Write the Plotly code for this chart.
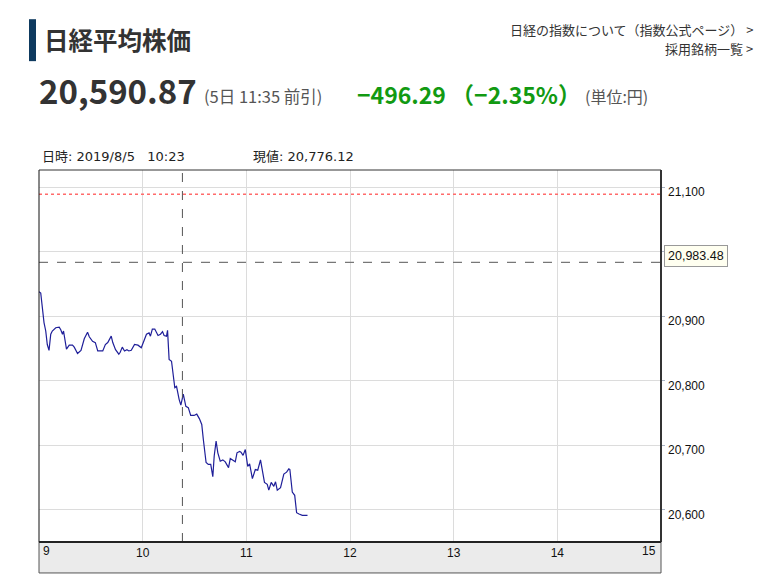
import plotly.graph_objects as go

# ---- data ----
minutes_from_open = [
    0, 1.0, 2.9, 3.9, 4.8, 5.8, 6.8, 7.7, 9.7, 11.7,
    12.6, 13.6, 14.2, 15.9, 17.5, 19.4, 20.4, 22.3, 24.3, 26.2,
    28.1, 29.1, 31.0, 32.6, 34.0, 36.9, 38.4, 39.8, 41.8, 42.7,
    44.3, 46.2, 47.0, 48.2, 49.5, 50.9, 52.0, 53.4, 55.3, 57.3,
    59.2, 61.2, 62.2, 63.7, 64.5, 65.6, 67.0, 68.9, 70.3, 71.5,
    72.4, 73.8, 74.4, 75.3, 76.7, 78.6, 79.6, 81.1, 82.1, 83.5,
    85.0, 86.4, 87.8, 89.7, 91.3, 92.8, 94.2, 95.1, 96.7, 98.0,
    99.4, 100.6, 101.4, 102.5, 103.5, 104.9, 106.4, 107.8, 109.7, 110.7,
    112.6, 113.6, 114.6, 116.1, 116.9, 118.1, 119.4, 120.8, 121.9, 123.5,
    125.2, 126.6, 128.2, 129.1, 130.5, 132.1, 133.0, 134.4, 135.9, 136.9,
    137.9, 139.8, 141.7, 143.3, 144.6, 145.2, 146.6, 148.0, 149.1, 150.5,
    152.4, 155.4,
]
prices = [
    20938, 20936, 20890, 20877, 20856, 20847, 20872, 20877, 20882, 20883,
    20879, 20872, 20877, 20849, 20855, 20855, 20852, 20842, 20847, 20865,
    20875, 20868, 20861, 20859, 20846, 20846, 20856, 20859, 20869, 20859,
    20848, 20841, 20844, 20852, 20846, 20848, 20846, 20847, 20856, 20855,
    20851, 20866, 20872, 20874, 20869, 20880, 20880, 20870, 20872, 20876,
    20870, 20869, 20878, 20833, 20830, 20789, 20791, 20771, 20762, 20779,
    20760, 20758, 20746, 20746, 20748, 20741, 20732, 20709, 20673, 20670,
    20670, 20651, 20683, 20706, 20688, 20675, 20677, 20674, 20665, 20679,
    20675, 20674, 20688, 20690, 20689, 20684, 20693, 20667, 20671, 20648,
    20662, 20661, 20677, 20665, 20642, 20639, 20630, 20642, 20636, 20643,
    20630, 20634, 20655, 20658, 20663, 20662, 20627, 20622, 20595, 20593,
    20591, 20591,
]
x_ticks = [9, 10, 11, 12, 13, 14, 15]
y_ticks = [20600, 20700, 20800, 20900, 21000, 21100]
y_tick_labels = ["20,600", "20,700", "20,800", "20,900", "", "21,100"]
prev_close = 20983.48
red_level = 21089
cursor_hour = 10 + 23 / 60

title = "日経平均株価"
price_text = "20,590.87"
time_text = "(5日 11:35 前引)"
change_text = "−496.29 （−2.35%）"
unit_text = "(単位:円)"
link1 = "日経の指数について（指数公式ページ） >"
link2 = "採用銘柄一覧 >"
cursor_label = "日時: 2019/8/5\u00a0\u00a0\u00a010:23"
cursor_value = "現値: 20,776.12"

hours = [9 + m / 60 for m in minutes_from_open]

# the page body has an 8px margin; work in page coordinates and subtract it
O = 8
W, H = 771 - O, 575 - O
ML, MT = 39 - O, 170 - O
MR = W - (661 - O)
MB = H - (542.5 - O)
plot_h = H - MT - MB
pw = W - ML - MR


def px(xp):
    return (xp - O - ML) / pw


def py(yp):
    return 1 + (MT - (yp - O)) / plot_h


fig = go.Figure()
fig.add_trace(go.Scatter(x=hours, y=prices, mode="lines",
                         line=dict(color="#1f1f99", width=1.2),
                         hoverinfo="skip", showlegend=False))

tick_font = dict(family="Liberation Sans, Arial, sans-serif", size=12, color="#111")
jp = "Noto Sans CJK JP, sans-serif"
mono = "DejaVu Sans, Noto Sans CJK JP, sans-serif"

fig.update_layout(
    width=W, height=H,
    margin=dict(l=ML, r=MR, t=MT, b=MB, pad=0),
    paper_bgcolor="white", plot_bgcolor="white",
    xaxis=dict(range=[9, 15], tickvals=x_ticks,
               ticktext=["" if v in (9, 15) else str(v) for v in x_ticks],
               showgrid=True, gridcolor="#dcdcdc", gridwidth=1,
               zeroline=False, showline=False, ticks="", tickfont=tick_font,
               ticklabelstandoff=2, fixedrange=True),
    yaxis=dict(range=[20549.6, 21126.8], side="right", tickvals=y_ticks,
               showticklabels=False, showgrid=True, gridcolor="#dcdcdc",
               gridwidth=1, zeroline=False, showline=False, ticks="outside",
               ticklen=3, tickcolor="#aab4c4", fixedrange=True),
)

shapes = []
shapes.append(dict(type="rect", xref="paper", yref="paper", x0=0, x1=1,
                   y0=-(MB - 1.5) / plot_h, y1=0, fillcolor="#ebebeb",
                   line=dict(color="#555", width=1), layer="below"))
shapes.append(dict(type="line", xref="paper", yref="y", x0=0, x1=1,
                   y0=red_level, y1=red_level,
                   line=dict(color="#ff6b6b", width=1.5, dash="dot")))
shapes.append(dict(type="line", xref="paper", yref="y", x0=0, x1=1,
                   y0=prev_close, y1=prev_close,
                   line=dict(color="#777", width=1.2, dash="dash")))
shapes.append(dict(type="line", xref="x", yref="paper", x0=cursor_hour,
                   x1=cursor_hour, y0=0, y1=1,
                   line=dict(color="#555", width=1, dash="dash")))
shapes.append(dict(type="line", xref="paper", yref="paper", x0=0, x1=0, y0=0, y1=1,
                   line=dict(color="#111", width=1)))
shapes.append(dict(type="line", xref="paper", yref="paper", x0=0, x1=1, y0=1, y1=1,
                   line=dict(color="#333", width=1)))
shapes.append(dict(type="line", xref="paper", yref="paper", x0=1, x1=1, y0=0, y1=1,
                   line=dict(color="#333", width=2)))
shapes.append(dict(type="line", xref="paper", yref="paper", x0=0, x1=1, y0=0, y1=0,
                   line=dict(color="#222", width=2)))
shapes.append(dict(type="rect", xref="paper", yref="paper",
                   x0=px(29), x1=px(36), y0=py(61), y1=py(19),
                   fillcolor="#0e3a5f", line=dict(width=0)))
fig.update_layout(shapes=shapes)

ann = []
ann.append(dict(x=9, y=py(552), xref="x", yref="paper", text="9", showarrow=False,
                xanchor="left", yanchor="middle", xshift=2, font=tick_font))
ann.append(dict(x=15, y=py(552), xref="x", yref="paper", text="15", showarrow=False,
                xanchor="right", yanchor="middle", xshift=-3, font=tick_font))
for v, lab in zip(y_ticks, y_tick_labels):
    if lab:
        ann.append(dict(x=1, y=v, xref="paper", yref="y", text=lab, showarrow=False,
                        xanchor="left", yanchor="middle", xshift=5, yshift=-5,
                        font=tick_font))
ann.append(dict(x=1, y=prev_close, xref="paper", yref="y", text="20,983.48",
                showarrow=False, xanchor="left", yanchor="middle", xshift=3, yshift=6,
                bgcolor="#fffff0", bordercolor="#999", borderwidth=1, borderpad=3,
                font=dict(family="Liberation Sans, Arial, sans-serif", size=12.5, color="#111")))


def txt(x, y, s, size, color, anchor="left", bold=False, family=jp):
    ann.append(dict(x=px(x), y=py(y), xref="paper", yref="paper",
                    text=("<b>" + s + "</b>") if bold else s,
                    showarrow=False, xanchor=anchor, yanchor="middle",
                    font=dict(family=family, size=size, color=color)))


txt(42, 39, title, 24.5, "#333", bold=True)
txt(37, 90, price_text, 33, "#333", bold=True)
txt(202, 96, time_text, 16.5, "#555")
txt(355, 94, change_text, 23, "#129a12", bold=True)
txt(583, 96, unit_text, 16, "#555")
txt(755, 29, link1, 13, "#333", anchor="right")
txt(755, 48, link2, 13, "#333", anchor="right")
txt(40, 156, cursor_label, 13, "#222", family=mono)
txt(251, 156, cursor_value, 13, "#222", family=mono)
fig.update_layout(annotations=ann)

fig.write_html("out.html", config={"displayModeBar": False})
